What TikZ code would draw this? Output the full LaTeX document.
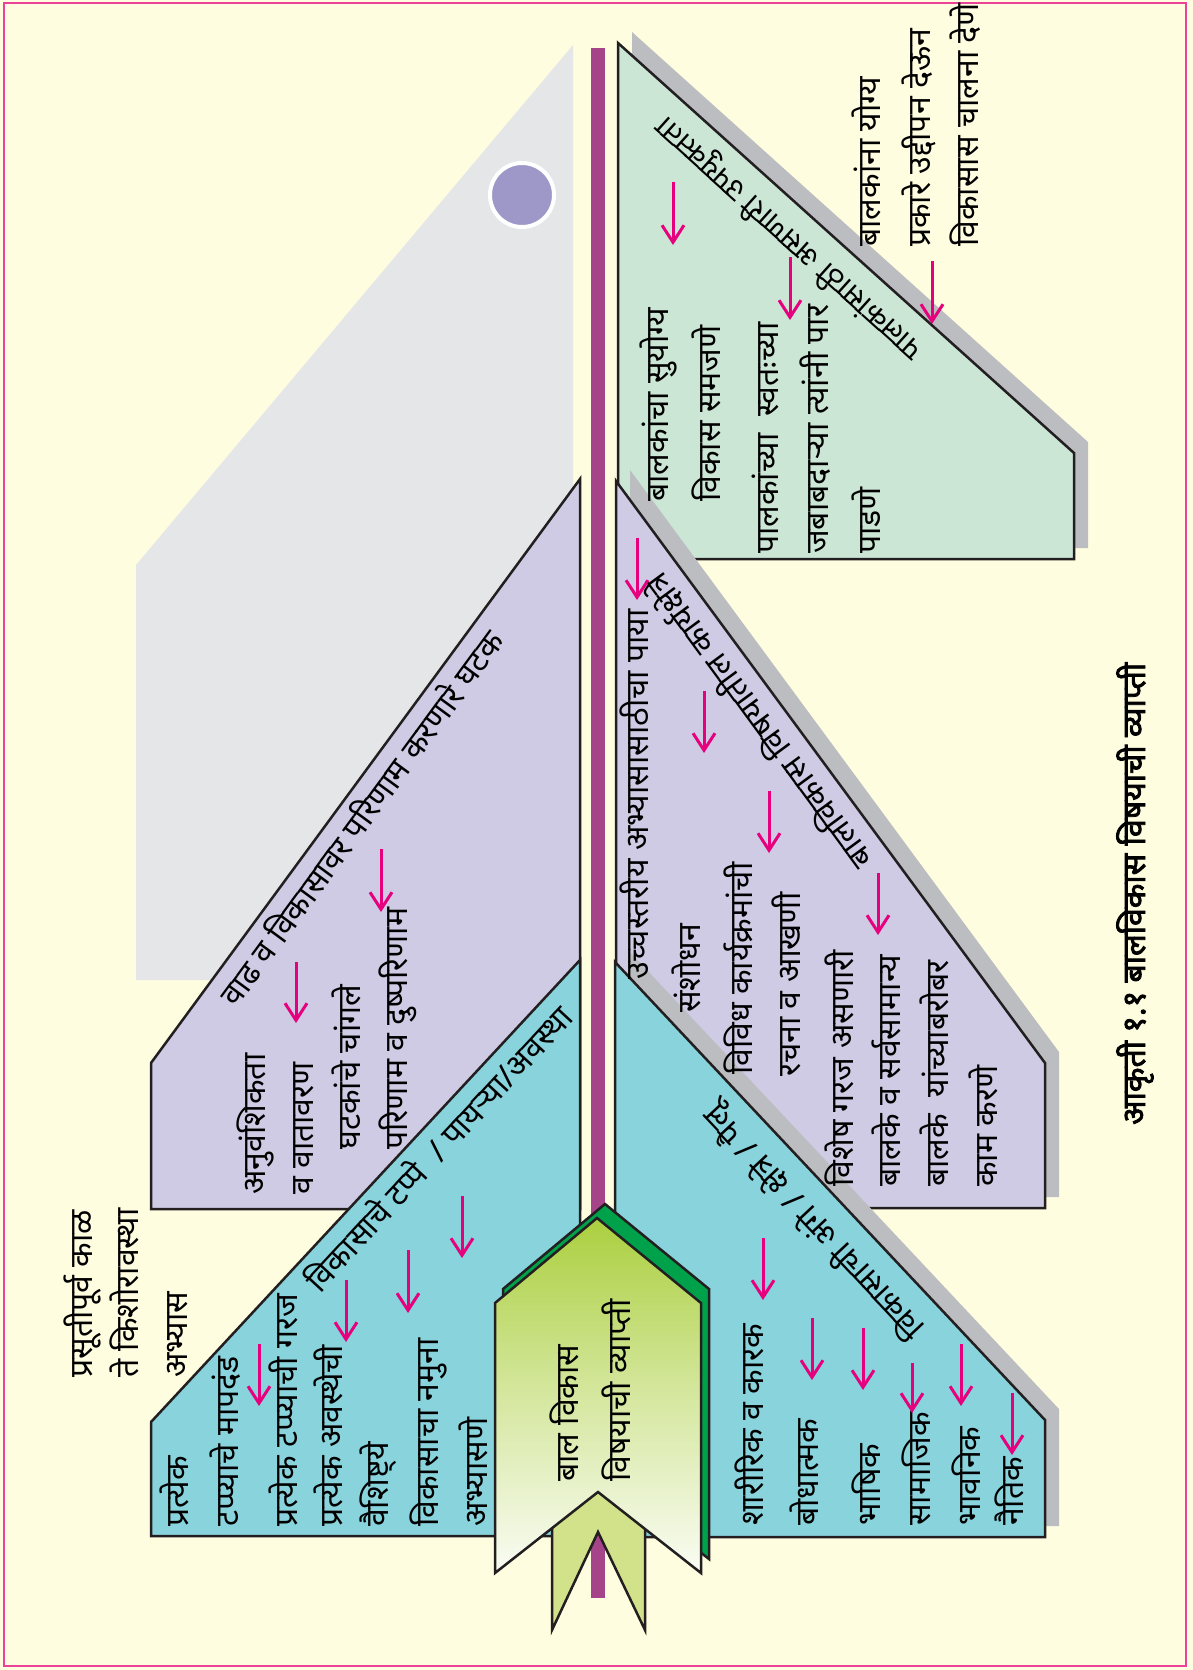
\documentclass[tikz,border=0pt]{standalone}
\usepackage{fontspec}
\setmainfont[Script=Devanagari]{Noto Sans}
\newfontfamily\captionfont[Script=Devanagari, FakeBold=2.5]{Noto Sans}
\usetikzlibrary{arrows.meta}

\definecolor{pagebg}{HTML}{FFFDE0}
\definecolor{framepink}{HTML}{EC4399}
\definecolor{wingblue}{HTML}{89D3DD}
\definecolor{winglilac}{HTML}{CFCBE4}
\definecolor{winggreen}{HTML}{CCE6D6}
\definecolor{winggray}{HTML}{E5E6E8}
\definecolor{shadowgray}{HTML}{BCBDC1}
\definecolor{shaftplum}{HTML}{A6448A}
\definecolor{arrowpink}{HTML}{E6007E}
\definecolor{dotlilac}{HTML}{9E98C9}
\definecolor{headlime}{HTML}{ABCF3F}
\definecolor{headdark}{HTML}{00A14B}
\definecolor{taillime}{HTML}{D2E28A}
\definecolor{inkblack}{HTML}{231F20}

\newcommand\bodysize{\fontsize{32}{38}\selectfont}

\begin{document}
\begin{tikzpicture}[x=1pt, y=-1pt,
    wing/.style={draw=inkblack, line width=2.5pt},
    wingshadow/.style={fill=shadowgray, transform canvas={shift={(14,-11)}}},
    lbl/.style={rotate=90, anchor=base west, inner sep=0pt, font=\bodysize},
    edgelbl/.style={sloped, inner sep=8pt, font=\bodysize},
    pinkarrow/.style={draw=arrowpink, line width=3pt,
      -{Straight Barb[length=17pt,width=22pt]}}]
  \useasboundingbox (0,0) rectangle (1193,1670);

  % Page
  \fill[pagebg] (0,0) rectangle (1193,1670);
  \draw[framepink, line width=2.5pt] (4,3) rectangle (1186,1666);

  % Wing corners
  \coordinate (gyTop) at (573,45);    \coordinate (gyCorner) at (136,565);
  \coordinate (gyFoot) at (136,980);  \coordinate (gyInner) at (573,980);
  \coordinate (lpTop) at (580,479);   \coordinate (lpCorner) at (151,1063);
  \coordinate (lpFoot) at (151,1209); \coordinate (lpInner) at (580,1209);
  \coordinate (lbTop) at (580,960);   \coordinate (lbCorner) at (151,1422);
  \coordinate (lbFoot) at (151,1536); \coordinate (lbInner) at (580,1536);
  \coordinate (grTop) at (618,43);    \coordinate (grCorner) at (1074,453);
  \coordinate (grFoot) at (1074,559); \coordinate (grInner) at (618,559);
  \coordinate (rpTop) at (616,481);   \coordinate (rpCorner) at (1045,1063);
  \coordinate (rpFoot) at (1045,1208);\coordinate (rpInner) at (616,1208);
  \coordinate (rbTop) at (615,962);   \coordinate (rbCorner) at (1045,1420);
  \coordinate (rbFoot) at (1045,1537);\coordinate (rbInner) at (615,1537);

  % Upper wings
  \fill[winggray] (gyTop) -- (gyCorner) -- (gyFoot) -- (gyInner) -- cycle;
  \filldraw[fill=dotlilac, draw=white, line width=4pt] (522,195) circle[radius=32pt];
  \filldraw[wing, fill=winglilac] (lpTop) -- (lpCorner) -- (lpFoot) -- (lpInner) -- cycle;
  \filldraw[wing, fill=wingblue] (lbTop) -- (lbCorner) -- (lbFoot) -- (lbInner) -- cycle;

  % Lower wings
  \foreach \w/\c in {gr/winggreen, rp/winglilac, rb/wingblue} {
    \fill[wingshadow] (\w Top) -- (\w Corner) -- (\w Foot) -- (\w Inner) -- cycle;
    \filldraw[wing, fill=\c] (\w Top) -- (\w Corner) -- (\w Foot) -- (\w Inner) -- cycle;
  }

  % Shaft and head
  \fill[shaftplum] (591,48) rectangle (605,1598);
  \coordinate (hdTop) at (597,1218);   \coordinate (hdRight) at (701,1303);
  \coordinate (hdRightFoot) at (701,1573); \coordinate (hdNotch) at (598,1492);
  \coordinate (hdLeftFoot) at (495,1573);  \coordinate (hdLeft) at (495,1303);
  \filldraw[wing, fill=headdark, transform canvas={shift={(8,-14)}}]
    (hdTop) -- (hdRight) -- (hdRightFoot) -- (hdNotch) -- (hdLeftFoot) -- (hdLeft) -- cycle;
  \filldraw[wing, fill=taillime]
    (552,1480) -- (552,1630) -- (598,1532) -- (645,1630) -- (645,1480) -- cycle;
  \filldraw[wing, top color=headlime, bottom color=headlime!6, middle color=headlime!50]
    (hdTop) -- (hdRight) -- (hdRightFoot) -- (hdNotch) -- (hdLeftFoot) -- (hdLeft) -- cycle;
  \node[lbl] (hd1) at (578,1482) {बाल विकास};
  \node[lbl] (hd2) at (630,1482) {विषयाची व्याप्ती};

  % Left side text
  \foreach \t/\x [count=\i] in {प्रसूतीपूर्व काळ/92, ते किशोरावस्था/138, अभ्यास/187} {
    \node[lbl] (pre\i) at (\x,1378) {\t};
  }
  \foreach \t/\x [count=\i] in {प्रत्येक/188, टप्प्याचे मापदंड/238,
      प्रत्येक टप्प्याची गरज/297, प्रत्येक अवस्थेची/342, वैशिष्ट्ये/388,
      विकासाचा नमुना/438, अभ्यासणे/487} {
    \node[lbl] (lb\i) at (\x,1527) {\t};
  }
  \foreach \t/\x/\y [count=\i] in {अनुवंशिकता/265/1195, व वातावरण/313/1195,
      घटकांचे चांगले/360/1150, परिणाम व दुष्परिणाम/407/1150} {
    \node[lbl] (lp\i) at (\x,\y) {\t};
  }
  \path (lbCorner) -- (lbTop)
    node[edgelbl, pos=0.318, anchor=north west] (lbHead) {विकासाचे टप्पे \ /\ पायऱ्या/अवस्था};
  \path (lpCorner) -- (lpTop)
    node[edgelbl, pos=0.119, anchor=north west] (lpHead) {वाढ व विकासावर परिणाम करणारे घटक};

  % Right side text
  \foreach \t/\x [count=\i] in {शारीरिक व कारक/763, बोधात्मक/818, भाषिक/880,
      सामाजिक/930, भावनिक/980, नैतिक/1023} {
    \node[lbl] (rb\i) at (\x,1526) {\t};
  }
  \foreach \t/\x/\y [count=\i] in {उच्चस्तरीय अभ्यासासाठीचा पाया/648/980,
      संशोधन/700/1013, विविध कार्यक्रमांची/752/1075, रचना व आखणी/800/1077,
      विशेष गरज असणारी/853/1187, बालके व सर्वसामान्य/900/1187,
      बालके \ यांच्याबरोबर/948/1187, काम करणे/997/1187} {
    \node[lbl] (rp\i) at (\x,\y) {\t};
  }
  \foreach \t/\x/\y [count=\i] in {बालकांचा सुयोग्य/668/502, विकास समजणे/720/502,
      पालकांच्या \ स्वतःच्या/778/554, जबाबदाऱ्या त्यांनी पार/828/554,
      पाडणे/880/554} {
    \node[lbl] (gr\i) at (\x,\y) {\t};
  }
  \foreach \t/\x [count=\i] in {बालकांना योग्य/880, प्रकारे उद्दीपन देऊन/930,
      विकासास चालना देणे/978} {
    \node[lbl] (post\i) at (\x,247) {\t};
  }
  \path (rbCorner) -- (rbTop)
    node[edgelbl, allow upside down, inner sep=13pt, pos=0.217, anchor=south west] (rbHead)
    {विकासाची अंगे / क्षेत्रे / पैलू};
  \path (rpCorner) -- (rpTop)
    node[edgelbl, allow upside down, inner sep=13pt, pos=0.35, anchor=south west] (rpHead)
    {बालविकास विषयातील कार्यक्षेत्रे};
  \path (grCorner) -- (grTop)
    node[edgelbl, allow upside down, inner sep=13pt, pos=0.275, anchor=south west,
      font=\fontsize{30}{36}\selectfont] (grHead)
    {पालकांसाठी असणारी उपयुक्तता};

  % Pink arrows
  \foreach \x/\ya/\yb [count=\k] in {259/1344/1406, 346/1280/1342, 408/1250/1313,
      462/1196/1258, 296/962/1023, 381/849/912, 763/1238/1300, 812/1318/1380,
      863/1328/1390, 912/1363/1413, 961/1344/1406, 1012/1393/1455,
      637/538/600, 704/691/753, 769/791/853, 878/873/935,
      673/182/245, 790/257/320, 932/261/324} {
    \coordinate (ta\k) at (\x,\ya);
    \coordinate (tb\k) at (\x,\yb);
    \draw[pinkarrow] (ta\k) -- (tb\k);
  }

  % Caption
  \node[lbl, font=\bodysize\captionfont] (caption) at (1145,1125) {आकृती १.१ बालविकास विषयाची व्याप्ती};
\end{tikzpicture}
\end{document}
